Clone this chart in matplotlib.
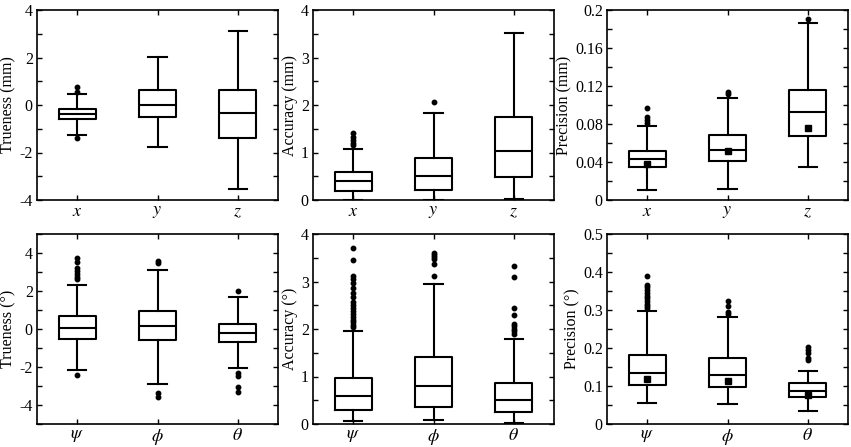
import matplotlib
matplotlib.use("Agg")
import matplotlib.pyplot as plt
from matplotlib.ticker import MultipleLocator, FormatStrFormatter

plt.rcParams['font.family'] = ['Liberation Serif', 'DejaVu Serif']
plt.rcParams['mathtext.fontset'] = 'stix'

pos_labels = [r'$x$', r'$y$', r'$z$']
ang_labels = [r'$\psi$', r'$\phi$', r'$\theta$']

# Each: [whislo, q1, med, q3, whishi]
true_mm = [[-1.26, -0.59, -0.38, -0.15, 0.46],
           [-1.78, -0.49, 0.00, 0.62, 2.04],
           [-3.54, -1.38, -0.35, 0.63, 3.12]]
true_mm_fliers = [[0.77, 0.56, -1.40], [], []]

acc_mm = [[0.01, 0.20, 0.39, 0.58, 1.07],
          [0.01, 0.22, 0.51, 0.89, 1.84],
          [0.03, 0.48, 1.04, 1.75, 3.52]]
acc_mm_fliers = [[1.42, 1.33, 1.26, 1.21, 1.16], [2.06], []]

prec_mm = [[0.0102, 0.0351, 0.0432, 0.0519, 0.0779],
           [0.0120, 0.0410, 0.0526, 0.0680, 0.1077],
           [0.0344, 0.0670, 0.0926, 0.1158, 0.1860]]
prec_mm_fliers = [[0.0968, 0.0870, 0.0840, 0.0810], [0.114, 0.112], [0.191]]
prec_mm_means = [0.0375, 0.0516, 0.0758]

true_deg = [[-2.16, -0.51, 0.07, 0.70, 2.32],
            [-2.89, -0.58, 0.16, 0.95, 3.11],
            [-2.07, -0.68, -0.19, 0.28, 1.70]]
true_deg_fliers = [[3.75, 3.54, 3.19, 3.05, 2.89, 2.75, 2.61, -2.40],
                   [3.60, 3.49, -3.39, -3.56],
                   [2.02, -2.32, -2.46, -3.05, -3.30]]

acc_deg = [[0.07, 0.29, 0.59, 0.96, 1.96],
           [0.08, 0.36, 0.81, 1.42, 2.95],
           [0.03, 0.25, 0.51, 0.86, 1.79]]
acc_deg_fliers = [[3.71, 3.46, 3.12, 3.05, 2.96, 2.86, 2.76, 2.67, 2.56, 2.51,
                   2.44, 2.37, 2.32, 2.26, 2.20, 2.14, 2.08, 2.04],
                  [3.59, 3.55, 3.52, 3.48, 3.36, 3.11],
                  [3.33, 3.09, 2.44, 2.29, 2.11, 2.06, 2.00, 1.95, 1.89]]

prec_deg = [[0.0544, 0.1026, 0.135, 0.1825, 0.2965],
            [0.052, 0.097, 0.129, 0.173, 0.2825],
            [0.0333, 0.070, 0.087, 0.108, 0.1386]]
prec_deg_fliers = [[0.390, 0.366, 0.360, 0.352, 0.345, 0.338, 0.331, 0.324,
                    0.317, 0.311, 0.305],
                   [0.325, 0.311, 0.296, 0.289],
                   [0.203, 0.195, 0.188, 0.175, 0.168]]
prec_deg_means = [0.1175, 0.114, 0.077]

panels = [
    dict(stats=true_mm, fliers=true_mm_fliers, means=None, labels=pos_labels,
         ylabel='Trueness (mm)', ylim=(-4, 4), major=2, minor=1, fmt='%g'),
    dict(stats=acc_mm, fliers=acc_mm_fliers, means=None, labels=pos_labels,
         ylabel='Accuracy (mm)', ylim=(0, 4), major=1, minor=0.5, fmt='%g'),
    dict(stats=prec_mm, fliers=prec_mm_fliers, means=prec_mm_means, labels=pos_labels,
         ylabel='Precision (mm)', ylim=(0, 0.2), major=0.04, minor=0.02, fmt='%g'),
    dict(stats=true_deg, fliers=true_deg_fliers, means=None, labels=ang_labels,
         ylabel='Trueness (°)', ylim=(-5, 5), major=2, minor=1, fmt='%g'),
    dict(stats=acc_deg, fliers=acc_deg_fliers, means=None, labels=ang_labels,
         ylabel='Accuracy (°)', ylim=(0, 4), major=1, minor=0.5, fmt='%g'),
    dict(stats=prec_deg, fliers=prec_deg_fliers, means=prec_deg_means, labels=ang_labels,
         ylabel='Precision (°)', ylim=(0, 0.5), major=0.1, minor=0.05, fmt='%g'),
]

fig = plt.figure(figsize=(8.51, 4.47), dpi=100)
W, H = 851, 447
lefts = [37, 313, 607]
width = 241
tops = [10, 234]
height = 190

for i, p in enumerate(panels):
    r, c = divmod(i, 3)
    ax = fig.add_axes([lefts[c] / W, 1 - (tops[r] + height) / H, width / W, height / H])
    bstats = []
    for j, s in enumerate(p['stats']):
        d = dict(whislo=s[0], q1=s[1], med=s[2], q3=s[3], whishi=s[4],
                 fliers=p['fliers'][j], label=p['labels'][j])
        if p['means'] is not None:
            d['mean'] = p['means'][j]
        bstats.append(d)
    lw = 1.5
    ax.bxp(bstats, widths=0.46, showmeans=p['means'] is not None,
           boxprops=dict(color='black', linewidth=lw),
           medianprops=dict(color='black', linewidth=lw),
           whiskerprops=dict(color='black', linewidth=lw),
           capprops=dict(color='black', linewidth=lw),
           flierprops=dict(marker='o', markerfacecolor='black', markeredgecolor='black',
                           markersize=3.2, linestyle='none'),
           meanprops=dict(marker='s', markerfacecolor='black', markeredgecolor='black',
                          markersize=3.8))
    ax.set_xlim(0.5, 3.5)
    ax.set_ylim(*p['ylim'])
    ax.yaxis.set_major_locator(MultipleLocator(p['major']))
    ax.yaxis.set_minor_locator(MultipleLocator(p['minor']))
    ax.yaxis.set_major_formatter(FormatStrFormatter(p['fmt']))
    ax.tick_params(axis='both', which='both', direction='in', top=True, right=True,
                   length=3.5, width=1.0, labelsize=11.5, pad=3)
    ax.tick_params(axis='x', labelsize=13, pad=2.5)
    ax.set_ylabel(p['ylabel'], fontsize=11.5, labelpad=2)
    for sp in ax.spines.values():
        sp.set_linewidth(1.2)

fig.savefig('out.png', dpi=100)
